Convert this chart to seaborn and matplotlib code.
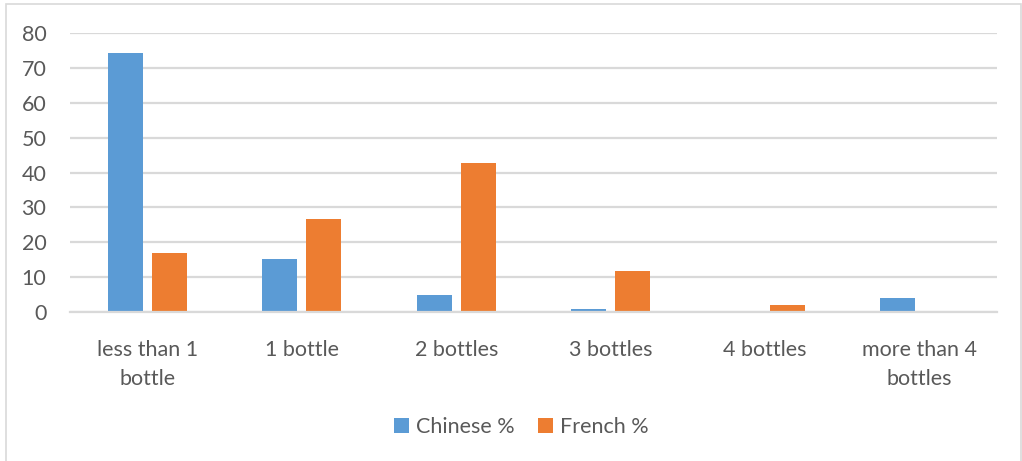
import matplotlib
matplotlib.use("Agg")
import matplotlib.pyplot as plt
import seaborn as sns
import pandas as pd
from matplotlib.patches import Rectangle

categories = ["less than 1\nbottle", "1 bottle", "2 bottles", "3 bottles",
              "4 bottles", "more than 4\nbottles"]
chinese_pct = [74.4, 15.3, 5.0, 0.9, 0.3, 4.1]
french_pct = [16.8, 26.8, 42.7, 11.8, 1.9, 0.0]
series_names = ["Chinese %", "French %"]
yticks = [0, 10, 20, 30, 40, 50, 60, 70, 80]

df = pd.DataFrame({
    "category": categories * 2,
    "value": chinese_pct + french_pct,
    "series": [series_names[0]] * len(categories) + [series_names[1]] * len(categories),
})

sns.set_theme(style="white")
plt.rcParams["font.family"] = ["Lato", "DejaVu Sans"]
text_color = "#595959"
grid_color = "#D9D9D9"

fig = plt.figure(figsize=(10.22, 4.61), dpi=100)
ax = fig.add_axes([0.0685, 0.3232, 0.907, 0.6052])

sns.barplot(data=df, x="category", y="value", hue="series",
            palette=["#5B9BD5", "#ED7D31"], width=0.57, gap=0.21,
            saturation=1, linewidth=0, edgecolor="none", ax=ax, legend=True)

ax.set_ylim(0, 80)
ax.set_yticks(yticks)
ax.set_xlim(-0.5, len(categories) - 0.5)
ax.yaxis.grid(True, color=grid_color, linewidth=1.6)
ax.set_axisbelow(True)
for side in ["top", "right", "left"]:
    ax.spines[side].set_visible(False)
ax.spines["bottom"].set_color(grid_color)
ax.spines["bottom"].set_linewidth(1.6)
ax.tick_params(axis="both", length=0, labelsize=15.5, colors=text_color)
ax.tick_params(axis="x", pad=20)
ax.tick_params(axis="y", pad=17)
for lbl in ax.get_xticklabels():
    lbl.set_linespacing(1.55)
ax.set_xlabel("")
ax.set_ylabel("")

handles, labels = ax.get_legend_handles_labels()
ax.legend_.remove()
fig.legend(handles, labels, loc="center", bbox_to_anchor=(0.51, 0.074),
           ncol=2, frameon=False, fontsize=15.5, labelcolor=text_color,
           handlelength=0.7, handleheight=0.7, handletextpad=0.35,
           columnspacing=1.05)

fig.patches.append(Rectangle((0.006, -0.01), 0.993, 1.001, transform=fig.transFigure,
                             fill=False, edgecolor="#D9D9D9", linewidth=1.2))

fig.savefig("out.png", dpi=100)
